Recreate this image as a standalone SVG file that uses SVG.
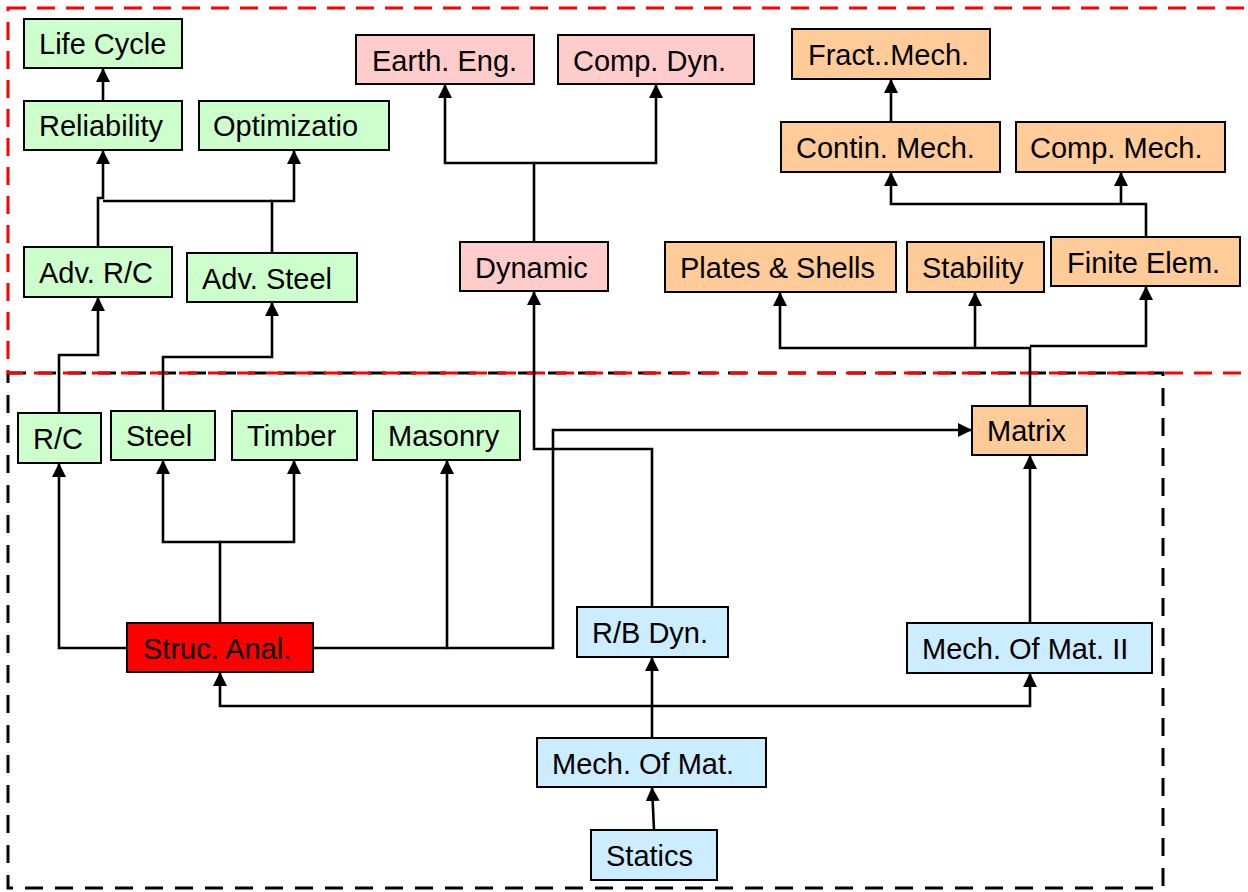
<svg xmlns="http://www.w3.org/2000/svg" width="1248" height="892" viewBox="0 0 1248 892">
<style>
.b{stroke:#000;stroke-width:2}
.g{fill:#CCFFCC}.p{fill:#FFCCCC}.o{fill:#FFCC99}.l{fill:#CCECFF}.r{fill:#FF0000}
text{font-family:"Liberation Sans",Arial,sans-serif;font-size:29px;fill:#000}
.c path{fill:none;stroke:#000;stroke-width:2.6}
</style>
<defs>
<marker id="a" markerUnits="userSpaceOnUse" markerWidth="15" markerHeight="14" refX="14" refY="7" orient="auto"><path d="M0,0 L14,7 L0,14 z" fill="#000"/></marker>
</defs>
<rect id="lower-frame" x="8" y="373" width="1155" height="515" fill="none" stroke="#000" stroke-width="3" stroke-dasharray="18 12"/>
<rect id="upper-frame" x="8" y="8" width="1246" height="365" fill="none" stroke="#FF0000" stroke-width="3" stroke-dasharray="18 11"/>
<g class="c" id="connectors">
<path d="M103,101 V68" marker-end="url(#a)"/>
<path d="M98,247 V198 H103 V150" marker-end="url(#a)"/>
<path d="M272,253 V201 H294 V150" marker-end="url(#a)"/>
<path d="M272,201 H103"/>
<path d="M534,242 V163 H445 V84" marker-end="url(#a)"/>
<path d="M534,163 H656 V84" marker-end="url(#a)"/>
<path d="M891,122 V79" marker-end="url(#a)"/>
<path d="M1146,237 V204 H891 V172" marker-end="url(#a)"/>
<path d="M1121,204 V172" marker-end="url(#a)"/>
<path d="M1030,406 V348 H780 V292" marker-end="url(#a)"/>
<path d="M975,348 V292" marker-end="url(#a)"/>
<path d="M1030,346 H1146 V286" marker-end="url(#a)"/>
<path d="M59,413 V355 H98 V297" marker-end="url(#a)"/>
<path d="M163,411 V357 H272 V302" marker-end="url(#a)"/>
<path d="M127,648 H59 V463" marker-end="url(#a)"/>
<path d="M220,623 V542 H163 V460" marker-end="url(#a)"/>
<path d="M220,542 H294 V460" marker-end="url(#a)"/>
<path d="M313,648 H447 V460" marker-end="url(#a)"/>
<path d="M447,648 H553 V430 H972" marker-end="url(#a)"/>
<path d="M652,607 V449 H534 V291" marker-end="url(#a)"/>
<path d="M652,738 V657" marker-end="url(#a)"/>
<path d="M652,706 H220 V672" marker-end="url(#a)"/>
<path d="M652,706 H1030 V673" marker-end="url(#a)"/>
<path d="M1030,623 V455" marker-end="url(#a)"/>
<path d="M654,830 L652,787" marker-end="url(#a)"/>
</g>
<g id="life-cycle"><rect class="b g" x="24" y="19" width="158" height="49"/><text x="39" y="54">Life Cycle</text></g>
<g id="reliability"><rect class="b g" x="24" y="101" width="158" height="49"/><text x="39" y="136">Reliability</text></g>
<g id="optimization"><rect class="b g" x="199" y="101" width="190" height="49"/><text x="213" y="136">Optimizatio</text></g>
<g id="adv-rc"><rect class="b g" x="24" y="247" width="148" height="50"/><text x="39" y="283">Adv. R/C</text></g>
<g id="adv-steel"><rect class="b g" x="187" y="253" width="170" height="49"/><text x="202" y="289">Adv. Steel</text></g>
<g id="earth-eng"><rect class="b p" x="356" y="35" width="178" height="49"/><text x="372" y="71">Earth. Eng.</text></g>
<g id="comp-dyn"><rect class="b p" x="558" y="35" width="196" height="49"/><text x="573" y="71">Comp. Dyn.</text></g>
<g id="dynamic"><rect class="b p" x="460" y="242" width="148" height="49"/><text x="475" y="278">Dynamic</text></g>
<g id="fract-mech"><rect class="b o" x="792" y="29" width="198" height="50"/><text x="808" y="65">Fract..Mech.</text></g>
<g id="contin-mech"><rect class="b o" x="781" y="122" width="219" height="50"/><text x="796" y="158">Contin. Mech.</text></g>
<g id="comp-mech"><rect class="b o" x="1016" y="122" width="209" height="50"/><text x="1030" y="158">Comp. Mech.</text></g>
<g id="plates-shells"><rect class="b o" x="665" y="242" width="231" height="50"/><text x="680" y="278">Plates &amp; Shells</text></g>
<g id="stability"><rect class="b o" x="907" y="242" width="137" height="50"/><text x="922" y="278">Stability</text></g>
<g id="finite-elem"><rect class="b o" x="1051" y="237" width="189" height="49"/><text x="1067" y="273">Finite Elem.</text></g>
<g id="rc"><rect class="b g" x="18" y="413" width="83" height="50"/><text x="33" y="449">R/C</text></g>
<g id="steel"><rect class="b g" x="111" y="411" width="104" height="49"/><text x="126" y="446">Steel</text></g>
<g id="timber"><rect class="b g" x="232" y="411" width="125" height="49"/><text x="247" y="446">Timber</text></g>
<g id="masonry"><rect class="b g" x="373" y="411" width="147" height="49"/><text x="388" y="446">Masonry</text></g>
<g id="matrix"><rect class="b o" x="972" y="406" width="115" height="49"/><text x="987" y="441">Matrix</text></g>
<g id="struc-anal"><rect class="b r" x="127" y="623" width="186" height="49"/><text x="143" y="659">Struc. Anal.</text></g>
<g id="rb-dyn"><rect class="b l" x="577" y="607" width="151" height="50"/><text x="592" y="643">R/B Dyn.</text></g>
<g id="mech-mat-2"><rect class="b l" x="907" y="623" width="245" height="50"/><text x="922" y="659">Mech. Of Mat. II</text></g>
<g id="mech-mat"><rect class="b l" x="537" y="738" width="229" height="49"/><text x="552" y="774">Mech. Of Mat.</text></g>
<g id="statics"><rect class="b l" x="591" y="830" width="126" height="50"/><text x="606" y="866">Statics</text></g>
</svg>
